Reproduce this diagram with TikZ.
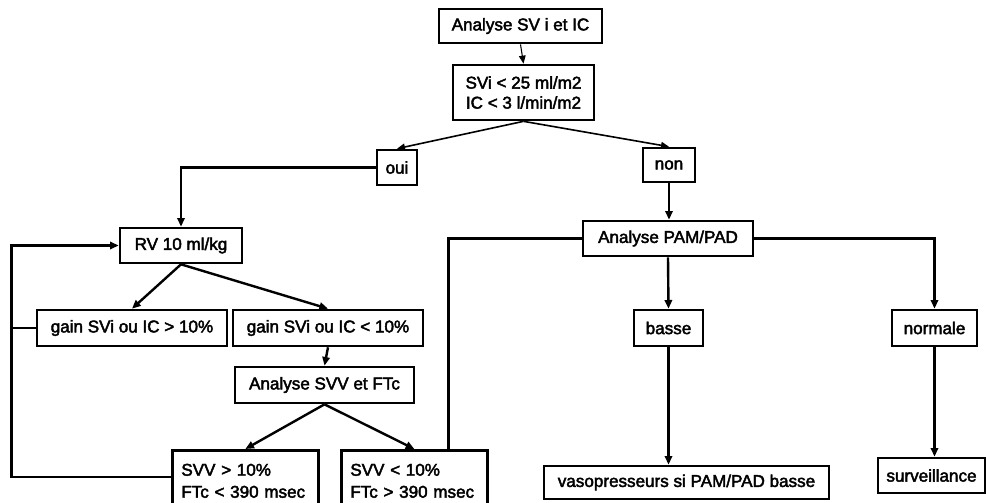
\documentclass[tikz,border=0pt]{standalone}
\usepackage{fontspec}
\setmainfont{Liberation Sans}
\newfontfamily\heavy{Liberation Sans}[FakeBold=2.5]
\usetikzlibrary{arrows.meta,calc}
\begin{document}
\begin{tikzpicture}[x=0.75pt,y=-0.75pt,
  box/.style={draw, line width=2pt, inner sep=0pt, align=center,
    font=\heavy\fontsize{12.8pt}{15pt}\selectfont},
  leftbox/.style={draw, line width=2pt, anchor=north west, align=left,
    inner xsep=6.75pt, inner ysep=10.1pt, text width=96pt,
    font=\heavy\fontsize{12.8pt}{16.5pt}\selectfont},
  conn/.style={line width=1.8pt, -{Triangle[length=6.5pt,width=5.5pt]}},
  thinconn/.style={line width=1.2pt, -{Triangle[length=6pt,width=5pt]}},
  plain/.style={line width=1.8pt}]
\useasboundingbox (0,0) rectangle (986,503);

\node[box, minimum width=122.25pt, minimum height=25.5pt] (a1) at (520.5,26) {Analyse SV i et IC};
\node[box, minimum width=105.75pt, minimum height=41.25pt] (a2) at (523.5,92.5) {SVi < 25 ml/m2\\IC < 3 l/min/m2};
\node[box, minimum width=30pt, minimum height=26.25pt] (oui) at (397,167.5) {oui};
\node[box, minimum width=39pt, minimum height=25.5pt] (non) at (669,165) {non};
\node[box, minimum width=127.5pt, minimum height=26.25pt] (pam) at (668,238.5) {Analyse PAM/PAD};
\node[box, minimum width=51.75pt, minimum height=27pt] (basse) at (668.5,328) {basse};
\node[box, minimum width=63.75pt, minimum height=27pt] (normale) at (934.5,328) {normale};
\node[box, minimum width=213.75pt, minimum height=24.75pt] (vaso) at (686.5,482.5) {vasopresseurs si PAM/PAD basse};
\node[box, minimum width=80.25pt, minimum height=26.25pt] (surv) at (931.5,475.5) {surveillance};
\node[box, minimum width=91.5pt, minimum height=26.25pt] (rv) at (181,245.5) {RV 10 ml/kg};
\node[box, minimum width=142.5pt, minimum height=27pt] (gaina) at (132,328) {gain SVi ou IC > 10\%};
\node[box, minimum width=142.5pt, minimum height=27pt] (gainb) at (328,328) {gain SVi ou IC < 10\%};
\node[box, minimum width=134.25pt, minimum height=27pt] (svvftc) at (324.5,385) {Analyse SVV et FTc};
\node[leftbox] (svva) at (171,449) {SVV > 10\%\\FTc < 390 msec};
\node[leftbox] (svvb) at (340,449) {SVV < 10\%\\FTc > 390 msec};

% top part
\draw[thinconn, line width=0.8pt] (a1.south) -- (a2.north);
\draw[thinconn] (a2.south) -- (oui.north);
\draw[thinconn] (a2.south) -- (non.north);
\draw[conn] (oui.west) -| (rv.north);
\draw[conn] (non.south) -- (non.south |- pam.north);

% right part
\draw[conn] (pam.south) -- (basse.north);
\draw[conn] (pam.east) -| (normale.north);
\draw[plain] (pam.west) -| ($(svvb.north east)+(-40,0)$);
\draw[conn] (basse.south) -- (basse.south |- vaso.north);
\draw[conn] (normale.south) -- (normale.south |- surv.north);

% left part
\draw[conn] (rv.south) -- (gaina.north);
\draw[conn] (rv.south) -- (gainb.north);
\draw[conn] (gainb.south) -- (svvftc.north);
\draw[conn] (svvftc.south) -- (svva.north);
\draw[conn] (svvftc.south) -- (svvb.north);
\draw[conn] ($(svva.north west)+(0,28)$) -| ($(rv.west)+(-107,0)$) -- (rv.west);
\draw[line width=1.2pt] (gaina.west) -- ++(-24,0);
\end{tikzpicture}
\end{document}
